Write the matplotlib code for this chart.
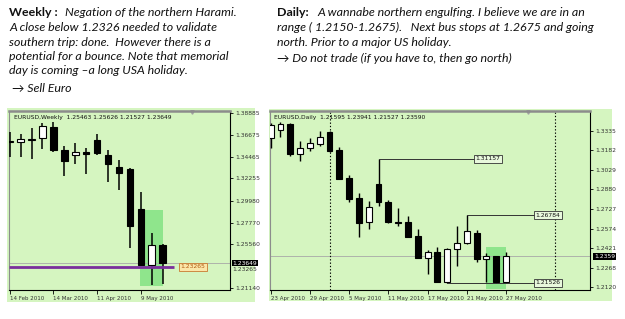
import matplotlib
matplotlib.use("Agg")
import matplotlib.pyplot as plt
from matplotlib.patches import Rectangle
import statistics

# ---------------- data ----------------
weekly_dates = ["14 Feb 2010", "14 Mar 2010", "11 Apr 2010", "9 May 2010"]
weekly_date_idx = [0, 4, 8, 12]
w_open  = [1.3598, 1.3600, 1.3617, 1.3634, 1.3749, 1.3512, 1.3464, 1.3491, 1.3617, 1.3464, 1.3342, 1.3318, 1.2915, 1.2340, 1.25463]
w_high  = [1.3702, 1.3675, 1.3736, 1.3787, 1.3804, 1.3559, 1.3583, 1.3532, 1.3678, 1.3512, 1.3410, 1.3329, 1.3084, 1.2674, 1.25626]
w_low   = [1.3447, 1.3447, 1.3424, 1.3525, 1.3491, 1.3254, 1.3369, 1.3268, 1.3464, 1.3193, 1.3105, 1.2514, 1.2330, 1.2141, 1.21527]
w_close = [1.3602, 1.3627, 1.3624, 1.3756, 1.3519, 1.3400, 1.3491, 1.3478, 1.3488, 1.3373, 1.3285, 1.2745, 1.2340, 1.2550, 1.23649]
w_yticks = [1.38885, 1.36675, 1.34465, 1.32255, 1.29980, 1.27770, 1.25560, 1.21140]
w_level = 1.23265
w_last = 1.23649

daily_dates = ["23 Apr 2010", "29 Apr 2010", "5 May 2010", "11 May 2010", "17 May 2010", "21 May 2010", "27 May 2010"]
daily_date_idx = [0, 4, 8, 12, 16, 20, 24]
d_open  = [1.3281, 1.3340, 1.3387, 1.3151, 1.3198, 1.3231, 1.3327, 1.3185, 1.2964, 1.2809, 1.2622, 1.2918, 1.2783, 1.2625, 1.2627, 1.2516, 1.2342, 1.2391, 1.2160, 1.2412, 1.2459, 1.2542, 1.2337, 1.2360, 1.21595]
d_high  = [1.3392, 1.3400, 1.3392, 1.3255, 1.3275, 1.3332, 1.3330, 1.3205, 1.2990, 1.2848, 1.2788, 1.31157, 1.2796, 1.2731, 1.2674, 1.2570, 1.2407, 1.2433, 1.2425, 1.2593, 1.26784, 1.2562, 1.2381, 1.2363, 1.23941]
d_low   = [1.3198, 1.3288, 1.3141, 1.3099, 1.3177, 1.3216, 1.3170, 1.2956, 1.2783, 1.2510, 1.2570, 1.2752, 1.2617, 1.2593, 1.2508, 1.2342, 1.2217, 1.2155, 1.21526, 1.2285, 1.2451, 1.2316, 1.2160, 1.2153, 1.21527]
d_close = [1.3379, 1.3384, 1.3151, 1.3198, 1.3237, 1.3288, 1.3179, 1.2959, 1.2806, 1.2619, 1.2744, 1.2778, 1.2622, 1.2619, 1.2510, 1.2342, 1.2389, 1.2160, 1.2415, 1.2459, 1.2557, 1.2334, 1.2360, 1.2158, 1.23590]
d_yticks = [1.3335, 1.3182, 1.3029, 1.2880, 1.2727, 1.2574, 1.2421, 1.2268, 1.2120]
d_levels = [(11, 1.31157, "1.31157"), (20, 1.26784, "1.26784"), (18, 1.21526, "1.21526")]
d_last = 1.23590

# ---------------- style ----------------
W, H = 625, 319
BG = "#d5f5c0"
HL = "#8fe58c"
TXT_FONT = ["Lato", "DejaVu Sans"]
SMALL = 4.3
XSMALL = 4.0

fig = plt.figure(figsize=(W / 100, H / 100), dpi=100)
fig.patch.set_facecolor("white")
renderer = fig.canvas.get_renderer()

def fx(x):
    return x / W

def fy(y):
    return 1 - y / H

# outer green panels (behind the axes)
fig.patches.append(Rectangle((fx(7), fy(302)), fx(255 - 7), (302 - 108) / H,
                             transform=fig.transFigure, facecolor=BG, edgecolor="none", zorder=-5))
fig.patches.append(Rectangle((fx(269), fy(301)), fx(612 - 269), (301 - 109) / H,
                             transform=fig.transFigure, facecolor=BG, edgecolor="none", zorder=-5))

texts = []
fitted = []

def fit_text(x0, x1, yc, s, bold=False, italic=True, base=9.0):
    t = fig.text(fx(x0), fy(yc), s, fontsize=base, family=TXT_FONT, va="center", ha="left",
                 fontweight="bold" if bold else "normal", style="italic" if italic else "normal",
                 color="#111111")
    w = t.get_window_extent(renderer).width
    texts.append(t)
    fitted.append(base * (x1 - x0) / w)
    return t

# ---------------- annotation text ----------------
fit_text(9.3, 55, 13, "Weekly :", bold=True, italic=False)
fit_text(65, 239, 13, "Negation of the northern Harami.")
fit_text(9.3, 216, 27.5, "A close below 1.2326 needed to validate")
fit_text(9.3, 213, 42, "southern trip: done.  However there is a")
fit_text(9.3, 230, 56.5, "potential for a bounce. Note that memorial")
fit_text(9.3, 187, 71, "day is coming \u2013a long USA holiday.")
fit_text(12, 71, 88, "\u2192 Sell Euro")

fit_text(277, 306, 13, "Daily:", bold=True, italic=False)
fit_text(317, 588, 13, "A wannabe northern engulfing. I believe we are in an")
fit_text(277, 588, 27.5, "range ( 1.2150-1.2675).   Next bus stops at 1.2675 and going")
fit_text(277, 455, 42, "north. Prior to a major US holiday.")
fit_text(277, 513, 58, "\u2192 Do not trade (if you have to, then go north)")

common = statistics.median(fitted)
for t in texts:
    t.set_fontsize(common)


def candles(ax, o, h, l, c, width=0.6, lw=1.0):
    xs = list(range(len(o)))
    ax.vlines(xs, l, h, color="black", linewidth=lw, zorder=3)
    bottoms = [min(a, b) for a, b in zip(o, c)]
    heights = [max(abs(b - a), 0.0002) for a, b in zip(o, c)]
    faces = ["white" if b > a else "black" for a, b in zip(o, c)]
    ax.bar(xs, heights, bottom=bottoms, width=width, color=faces, edgecolor="black",
           linewidth=0.8, zorder=4)


def style_axes(ax, yticks, fmt, date_idx, dates):
    ax.set_facecolor(BG)
    ax.yaxis.tick_right()
    ax.set_yticks(yticks)
    ax.set_yticklabels([fmt.format(v) for v in yticks])
    ax.tick_params(axis="y", direction="out", length=2, width=0.6, labelsize=SMALL,
                   labelcolor="#333333", pad=1.5)
    ax.set_xticks(date_idx)
    ax.set_xticklabels(dates)
    ax.tick_params(axis="x", direction="out", length=3, width=0.6, labelsize=XSMALL,
                   labelcolor="#333333", pad=1.5)
    for lab in ax.get_xticklabels():
        lab.set_horizontalalignment("left")
    ax.spines["top"].set_color("#8c8c8c")
    ax.spines["top"].set_linewidth(1.8)
    ax.spines["left"].set_color("#8c8c8c")
    ax.spines["left"].set_linewidth(0.8)
    ax.spines["right"].set_color("black")
    ax.spines["right"].set_linewidth(0.8)
    ax.spines["bottom"].set_color("black")
    ax.spines["bottom"].set_linewidth(0.8)


# ---------------- weekly chart ----------------
axw = fig.add_axes([fx(9.3), fy(290), fx(230 - 9.3), (290 - 111) / H])
axw.set_xlim(-0.034, 20.16)
axw.set_ylim(1.20902, 1.39122)
style_axes(axw, w_yticks, "{:.5f}", weekly_date_idx, weekly_dates)
axw.add_patch(Rectangle((11.92, 1.2131), 14.0 - 11.92, 1.2905 - 1.2131, facecolor=HL,
                        edgecolor="none", zorder=1))
axw.axhline(w_last, color="#a8a8a8", linewidth=0.6, zorder=2)
candles(axw, w_open, w_high, w_low, w_close, lw=1.1)
axw.plot([-0.034, 15.0], [w_level, w_level], color="#7a2f9c", linewidth=2.0, zorder=5,
         solid_capstyle="butt")
axw.text(15.65, w_level, "1.23265", fontsize=SMALL, color="#b05a10", va="center", ha="left", zorder=6,
         bbox=dict(boxstyle="square,pad=0.25", facecolor="#fbe6a8", edgecolor="#c87a30", linewidth=0.6))
axw.text(0.02, 0.975, "EURUSD,Weekly  1.25463 1.25626 1.21527 1.23649", transform=axw.transAxes,
         fontsize=SMALL, va="top", ha="left", color="#111111")
axw.plot([0.83], [0.995], marker="v", color="#a0a0a0", markersize=2.5, transform=axw.transAxes,
         clip_on=False)
axw.text(1.012, w_level - 0.0025, "1.23265", transform=axw.get_yaxis_transform(), fontsize=SMALL,
         va="center", ha="left", color="#333333", clip_on=False)
axw.text(1.012, w_last, "1.23649", transform=axw.get_yaxis_transform(), fontsize=SMALL,
         va="center", ha="left", color="white", clip_on=False,
         bbox=dict(boxstyle="square,pad=0.15", facecolor="black", edgecolor="none"))

# ---------------- daily chart ----------------
axd = fig.add_axes([fx(270), fy(290), fx(590 - 270), (290 - 111) / H])
axd.set_xlim(-0.068, 32.56)
axd.set_ylim(1.2096, 1.3488)
style_axes(axd, d_yticks, "{:.4f}", daily_date_idx, daily_dates)
axd.add_patch(Rectangle((22.0, 1.2102), 2.0, 1.2433 - 1.2102, facecolor=HL, edgecolor="none", zorder=1))
axd.axhline(d_last, color="#a8a8a8", linewidth=0.6, zorder=2)
axd.axvline(6, color="black", linestyle=(0, (1.2, 1.8)), linewidth=0.8, zorder=2)
axd.axvline(29.0, color="black", linestyle=(0, (1.2, 1.8)), linewidth=0.8, zorder=2)
candles(axd, d_open, d_high, d_low, d_close, lw=1.0)
label_x = {"1.31157": 20.75, "1.26784": 26.9, "1.21526": 26.9}
for idx, price, lab in d_levels:
    x1 = label_x[lab]
    axd.plot([idx, x1], [price, price], color="#333333", linewidth=0.7, zorder=5)
    axd.text(x1 + 0.1, price, lab, fontsize=SMALL, color="#111111", va="center", ha="left", zorder=6,
             bbox=dict(boxstyle="square,pad=0.25", facecolor="#e8f8dc", edgecolor="#333333", linewidth=0.6))
axd.text(0.012, 0.975, "EURUSD,Daily  1.21595 1.23941 1.21527 1.23590", transform=axd.transAxes,
         fontsize=SMALL, va="top", ha="left", color="#111111")
axd.plot([0.805], [0.995], marker="v", color="#a0a0a0", markersize=2.5, transform=axd.transAxes,
         clip_on=False)
axd.text(1.012, d_last, "1.2359", transform=axd.get_yaxis_transform(), fontsize=SMALL,
         va="center", ha="left", color="white", clip_on=False,
         bbox=dict(boxstyle="square,pad=0.15", facecolor="black", edgecolor="none"))

fig.savefig("out.png", dpi=100, facecolor="white")
